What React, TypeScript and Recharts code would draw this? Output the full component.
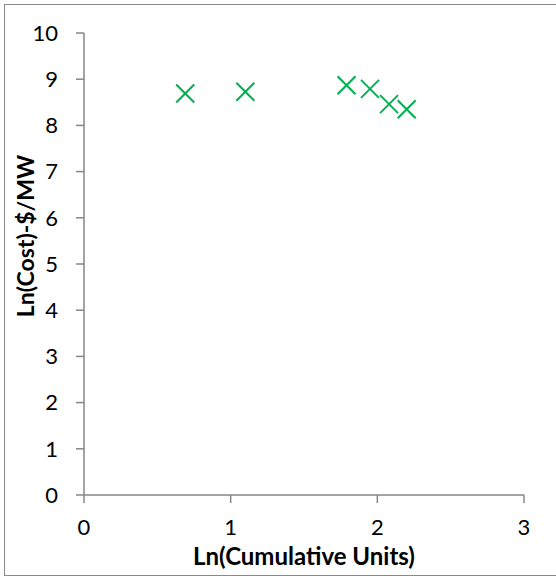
import { Label, Scatter, ScatterChart, XAxis, YAxis } from "recharts";

// ln(cumulative units) vs ln(cost $/MW)
const lnUnits = [0.69, 1.1, 1.79, 1.95, 2.08, 2.2];
const lnCost = [8.69, 8.73, 8.87, 8.79, 8.46, 8.35];
const xTicks = [0, 1, 2, 3];
const yTicks = [0, 1, 2, 3, 4, 5, 6, 7, 8, 9, 10];

const data = lnUnits.map((x, i) => ({ x, y: lnCost[i] }));

const FONT = "Lato, 'Open Sans', sans-serif";
const AXIS = "#868686";
const GREEN = "#00b050";

const Cross = (props: any) => {
  const { cx, cy } = props;
  const r = 9;
  return (
    <g stroke={GREEN} strokeWidth={2}>
      <line x1={cx - r} y1={cy - r} x2={cx + r} y2={cy + r} />
      <line x1={cx - r} y1={cy + r} x2={cx + r} y2={cy - r} />
    </g>
  );
};

// excel centres the title a bit above the plot middle
const YTitle = (props: any) => {
  const vb = props.viewBox;
  const cx = 25;
  const cy = vb.y + vb.height / 2 - 28;
  return (
    <text
      x={cx}
      y={cy}
      transform={`rotate(-90 ${cx} ${cy})`}
      textAnchor="middle"
      dominantBaseline="central"
      fontFamily={FONT}
      fontWeight="bold"
      fontSize={23}
      fill="#000"
    >
      Ln(Cost)-$/MW
    </text>
  );
};

export default function App() {
  return (
    <div style={{ position: "absolute", left: 0, top: 0, width: 556, height: 576, overflow: "hidden", background: "#fff" }}>
      <div
        style={{
          position: "absolute",
          left: 4,
          top: 4,
          width: 560,
          height: 570,
          borderTop: "1.5px solid #8a8a8a",
          borderLeft: "1.5px solid #8a8a8a",
          borderBottom: "1.5px solid #8a8a8a",
        }}
      />
      <div style={{ position: "absolute", left: 0, top: 0 }}>
        <ScatterChart
          width={556}
          height={576}
          margin={{ top: 33, right: 32, bottom: 0, left: 0 }}
        >
          <XAxis
            type="number"
            dataKey="x"
            domain={[0, 3]}
            ticks={xTicks}
            height={81}
            stroke={AXIS}
            strokeWidth={1.5}
            tickSize={8}
            tickMargin={16}
            tick={{ fill: "#000", fontSize: 22, fontFamily: FONT }}
            tickLine={{ stroke: AXIS, strokeWidth: 1.5 }}
          >
            <Label
              value="Ln(Cumulative Units)"
              position="insideBottom"
              offset={11}
              style={{ fontFamily: FONT, fontWeight: "bold", fontSize: 24, fill: "#000" }}
            />
          </XAxis>
          <YAxis
            type="number"
            dataKey="y"
            domain={[0, 10]}
            ticks={yTicks}
            width={84}
            stroke={AXIS}
            strokeWidth={1.5}
            tickSize={8}
            tickMargin={18}
            tick={{ fill: "#000", fontSize: 22, fontFamily: FONT }}
            tickLine={{ stroke: AXIS, strokeWidth: 1.5 }}
          >
            <Label content={<YTitle />} />
          </YAxis>
          <Scatter data={data} shape={<Cross />} isAnimationActive={false} />
        </ScatterChart>
      </div>
    </div>
  );
}
